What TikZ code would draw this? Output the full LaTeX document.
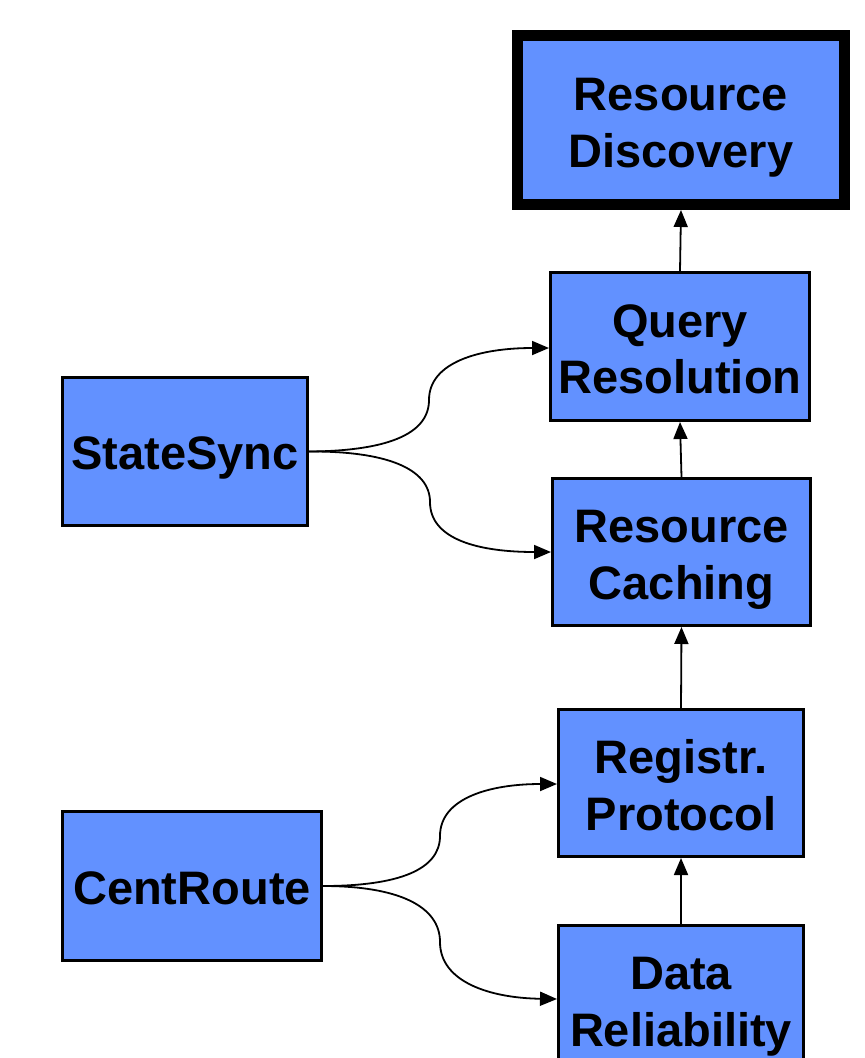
\documentclass[tikz,border=0pt]{standalone}
\usepackage{fontspec}
\setmainfont{Liberation Sans}
\usetikzlibrary{arrows.meta}
\definecolor{boxblue}{RGB}{98,145,255}
\begin{document}
\begin{tikzpicture}[x=1pt,y=-1pt,
  blk/.style={draw=black, line width=3pt, fill=boxblue, align=center,
    inner sep=0pt, text height=94pt, text depth=0pt,
    font=\bfseries\fontsize{47}{56.5}\selectfont},
  oneline/.style={text height=36pt, text depth=0pt},
  arr/.style={-{Triangle[length=17pt,width=14pt]}, line width=1.8pt, black}]
\clip (0,0) rectangle (865,1058);
\fill[white] (0,0) rectangle (865,1058);
\node[blk, line width=11pt, minimum width=327pt, minimum height=169pt] (rd) at (681,120) {Resource\\Discovery};
\node[blk, minimum width=259pt, minimum height=148pt] (qr) at (680,346.5) {Query\\Resolution};
\node[blk, minimum width=258pt, minimum height=147pt] (rc) at (681.5,552) {Resource\\Caching};
\node[blk, minimum width=245pt, minimum height=147pt] (rp) at (681,783) {Registr.\\Protocol};
\node[blk, minimum width=245pt, minimum height=147pt] (dr) at (681,999) {Data\\Reliability};
\node[blk, oneline, minimum width=245pt, minimum height=148pt] (ss) at (185,451.5) {StateSync};
\node[blk, oneline, minimum width=259pt, minimum height=149pt] (cr) at (192,886) {CentRoute};
\coordinate (m1) at (429,400);
\coordinate (m2) at (430,502);
\coordinate (m3) at (440,836);
\coordinate (m4) at (440,942);
\draw[arr] (qr.north) -- (rd.south);
\draw[arr] (rc.north) -- (qr.south);
\draw[arr] (rp.north) -- (rc.south);
\draw[arr] (dr.north) -- (rp.south);
\draw[arr] (ss.east) .. controls (385,451) and (429,435) .. (m1) .. controls (429,362) and (480,348) .. (qr.west |- 0,348);
\draw[arr] (ss.east) .. controls (385,451) and (430,468) .. (m2) .. controls (430,540) and (480,552) .. (rc.west);
\draw[arr] (cr.east) .. controls (398,886) and (440,870) .. (m3) .. controls (440,798) and (490,784) .. (rp.west |- 0,784);
\draw[arr] (cr.east) .. controls (398,886) and (440,906) .. (m4) .. controls (440,982) and (490,998) .. (dr.west |- 0,999);
\end{tikzpicture}
\end{document}
